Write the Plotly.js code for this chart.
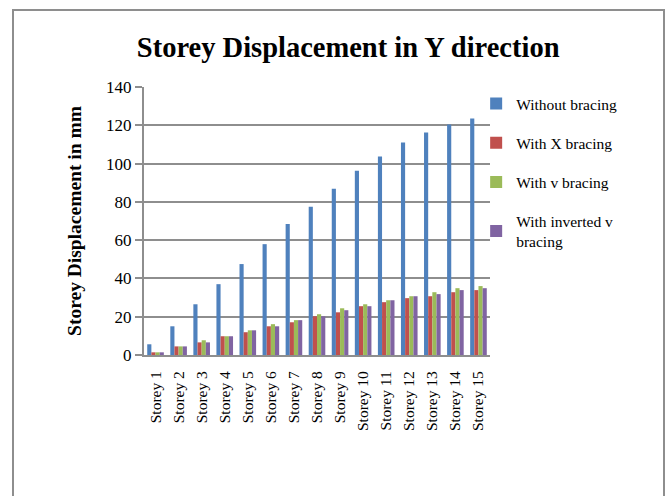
<!DOCTYPE html>
<html>
<head>
<meta charset="utf-8">
<script src="https://cdn.plot.ly/plotly-3.0.1.min.js"></script>
<style>
html,body{margin:0;padding:0;background:#fff;}
#chart{width:667px;height:496px;}
#frame{position:absolute;left:12px;top:9px;width:649px;height:500px;border:2px solid #8e8e8e;pointer-events:none;}
</style>
</head>
<body>
<div id="chart"></div>
<div id="frame"></div>
<script>
const categories = ["Storey 1","Storey 2","Storey 3","Storey 4","Storey 5","Storey 6","Storey 7","Storey 8","Storey 9","Storey 10","Storey 11","Storey 12","Storey 13","Storey 14","Storey 15"];
const seriesNames = ["Without bracing","With X bracing","With v bracing","With inverted v<br>bracing"];
const withoutBracing = [5.6,15.0,26.5,37.0,47.5,57.9,68.4,77.5,86.9,96.3,103.7,111.0,116.2,120.4,123.6];
const withXBracing   = [1.4,4.5,6.6,9.8,11.9,15.0,17.1,20.2,22.3,25.5,27.6,29.7,30.7,32.8,33.9];
const withVBracing   = [1.4,4.5,7.7,9.8,12.9,16.1,18.2,21.3,24.4,26.5,28.6,30.7,32.8,34.9,36.0];
const withInvVBracing= [1.4,4.5,6.6,9.8,12.9,15.0,18.2,20.2,23.4,25.5,28.6,30.7,31.8,33.9,34.9];
const yTicks = [0,20,40,60,80,100,120,140];
const colors = ["#4F81BD","#C0504D","#9BBB59","#8064A2"];

const allSeries = [withoutBracing, withXBracing, withVBracing, withInvVBracing];
const traces = allSeries.map((vals, i) => ({
  type: 'bar',
  name: seriesNames[i],
  x: categories,
  y: vals,
  marker: {color: colors[i], line: {width: 0}},
  legendgroup: 'g' + i
}));

const serif = '"Liberation Serif", "DejaVu Serif", serif';
const layout = {
  width: 667, height: 496,
  paper_bgcolor: '#fff', plot_bgcolor: '#fff',
  margin: {l: 144, r: 177, t: 87, b: 141},
  barmode: 'group',
  bargap: 0.28,
  bargroupgap: 0,
  title: {
    text: '<b>Storey Displacement in Y direction</b>',
    font: {family: serif, size: 28.5, color: '#000'},
    x: 0.522, xanchor: 'center', y: 0.905, yanchor: 'middle'
  },
  xaxis: {
    type: 'category',
    tickangle: -90,
    tickfont: {family: serif, size: 15.5, color: '#000'},
    ticklabelstandoff: 8,
    showline: true, linecolor: '#8e8e8e', linewidth: 2,
    ticks: '', showgrid: false, automargin: false
  },
  yaxis: {
    range: [0, 140],
    tickvals: yTicks,
    ticktext: yTicks.map(String),
    tickfont: {family: serif, size: 17, color: '#000'},
    showgrid: true, gridcolor: '#8e8e8e', gridwidth: 2,
    showline: true, linecolor: '#8e8e8e', linewidth: 2,
    ticks: 'outside', ticklen: 7, tickcolor: '#8e8e8e', tickwidth: 2,
    zeroline: false,
    title: {text: '<b>Storey Displacement in mm</b>', font: {family: serif, size: 19.5, color: '#000'}, standoff: 19},
    automargin: false
  },
  legend: {
    x: 0.96, xanchor: 'left', y: 1.0, yanchor: 'top',
    font: {family: serif, size: 15.5, color: '#000'},
    tracegroupgap: 16,
    itemwidth: 30,
    bgcolor: 'rgba(0,0,0,0)'
  },
  showlegend: true
};

Plotly.newPlot('chart', traces, layout, {displayModeBar: false, staticPlot: true});
</script>
</body>
</html>
